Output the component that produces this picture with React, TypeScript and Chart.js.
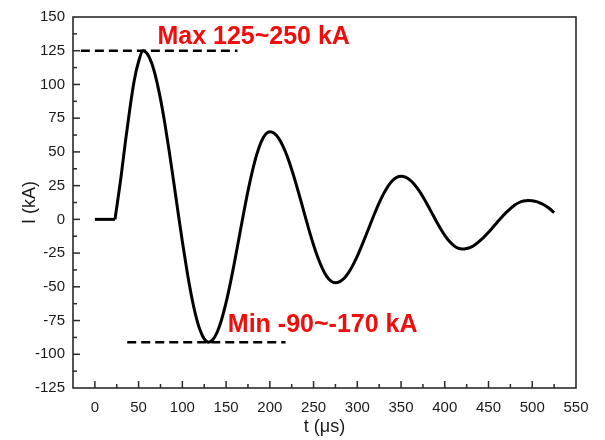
import React, { useEffect, useRef } from 'react';
import { Chart, registerables } from 'chart.js';

Chart.register(...registerables);

// ---- data ----
const baseT = [0, 23];
const baseI = [0, 0];

const waveT = [
  23, 30, 35, 40, 45, 50, 55, 60, 65, 70, 75, 80, 85, 90, 95, 100, 105, 110, 115, 120, 125,
  130, 135, 140, 145, 150, 155, 160, 165, 170, 175, 180, 185, 190, 195, 200, 205, 210, 215,
  220, 225, 230, 235, 240, 245, 250, 255, 260, 265, 270, 275, 280, 285, 290, 295, 300, 305,
  310, 315, 320, 325, 330, 335, 340, 345, 350, 355, 360, 365, 370, 375, 380, 385, 390, 395,
  400, 405, 410, 415, 420, 425, 430, 435, 440, 445, 450, 455, 460, 465, 470, 475, 480, 485,
  490, 495, 500, 505, 510, 515, 520, 525,
];
const waveI = [
  0, 32, 58, 82, 103, 117, 125, 122.6, 115.7, 104.4, 89.3, 71, 50.4, 28.3, 5.7, -16.4, -37,
  -55.3, -70.4, -81.7, -88.6, -91, -89, -83.3, -74, -61.6, -46.9, -30.4, -13, 4.4, 20.9,
  35.6, 48, 57.3, 63, 65, 63.8, 60.2, 54.3, 46.5, 37, 26.3, 14.9, 3.1, -8.3, -19, -28.5,
  -36.3, -42.2, -45.8, -47, -46.1, -43.6, -39.5, -33.9, -27.3, -19.7, -11.6, -3.4, 4.7,
  12.3, 18.9, 24.5, 28.6, 31.1, 32, 31.3, 29.3, 26.1, 21.8, 16.7, 11, 5, -1, -6.7, -11.8,
  -16.1, -19.3, -21.3, -22, -21.6, -20.5, -18.6, -16, -13, -9.6, -5.9, -2.1, 1.6, 5, 8,
  10.6, 12.5, 13.6, 14, 13.8, 13.1, 11.8, 10.1, 7.9, 5,
];

const maxLineT = [-16, 163];
const maxLineI = [125, 125];
const minLineT = [37, 218];
const minLineI = [-91, -91];

const maxLabel = 'Max 125~250 kA';
const maxLabelAt = [71.5, 130];
const minLabel = 'Min -90~-170 kA';
const minLabelAt = [152, -83.3];

const xRange = [-25, 550];
const xStep = 25;
const xLabelEvery = 50;
const yRange = [-125, 150];
const yStep = 12.5;
const yLabelEvery = 25;

const xTitle = 't (μs)';
const yTitle = 'I (kA)';

const FONT = '"Liberation Sans", Arial, sans-serif';
const INK = '#1a1a1a';
const RED = '#f20d0d';

const toPts = (xs: number[], ys: number[]) => xs.map((x, i) => ({ x, y: ys[i] }));

const framePlugin = {
  id: 'frameTicks',
  afterDraw(chart: any) {
    const { ctx, chartArea } = chart;
    const { left, right, top, bottom } = chartArea;
    const xs = chart.scales.x;
    const ys = chart.scales.y;
    ctx.save();
    ctx.strokeStyle = '#2a2a2a';
    ctx.lineWidth = 1.6;
    ctx.strokeRect(left, top, right - left, bottom - top);
    ctx.lineWidth = 1.5;
    xs.ticks.forEach((t: any) => {
      const px = xs.getPixelForValue(t.value);
      if (px <= left + 1 || px >= right - 1) return;
      const major = Math.abs(t.value % xLabelEvery) < 1e-6;
      ctx.beginPath();
      ctx.moveTo(px, bottom);
      ctx.lineTo(px, bottom - (major ? 7 : 4));
      ctx.stroke();
    });
    ys.ticks.forEach((t: any) => {
      const py = ys.getPixelForValue(t.value);
      if (py <= top + 1 || py >= bottom - 1) return;
      const major = Math.abs(t.value % yLabelEvery) < 1e-6;
      ctx.beginPath();
      ctx.moveTo(left, py);
      ctx.lineTo(left + (major ? 7 : 4), py);
      ctx.stroke();
    });
    ctx.fillStyle = RED;
    ctx.font = `bold 25px ${FONT}`;
    ctx.textAlign = 'left';
    ctx.textBaseline = 'alphabetic';
    ctx.fillText(maxLabel, xs.getPixelForValue(maxLabelAt[0]), ys.getPixelForValue(maxLabelAt[1]));
    ctx.fillText(minLabel, xs.getPixelForValue(minLabelAt[0]), ys.getPixelForValue(minLabelAt[1]));
    ctx.restore();
  },
};

export default function App() {
  const ref = useRef<HTMLCanvasElement | null>(null);
  useEffect(() => {
    if (!ref.current) return;
    const chart = new Chart(ref.current, {
      type: 'line',
      data: {
        datasets: [
          {
            data: toPts(baseT, baseI),
            borderColor: '#000',
            borderWidth: 3,
            pointRadius: 0,
            tension: 0,
          },
          {
            data: toPts(waveT, waveI),
            borderColor: '#000',
            borderWidth: 3,
            pointRadius: 0,
            cubicInterpolationMode: 'monotone',
            borderJoinStyle: 'round',
          },
          {
            data: toPts(maxLineT, maxLineI),
            borderColor: '#000',
            borderWidth: 2.5,
            borderDash: [9, 5],
            pointRadius: 0,
          },
          {
            data: toPts(minLineT, minLineI),
            borderColor: '#000',
            borderWidth: 2.5,
            borderDash: [9, 5],
            pointRadius: 0,
          },
        ] as any,
      },
      options: {
        responsive: false,
        animation: false,
        devicePixelRatio: 1,
        layout: { padding: { top: 15, right: 29, left: 0, bottom: 0 } },
        plugins: { legend: { display: false }, tooltip: { enabled: false } },
        scales: {
          x: {
            type: 'linear',
            min: xRange[0],
            max: xRange[1],
            grid: { display: false, drawTicks: false },
            border: { display: false },
            ticks: {
              stepSize: xStep,
              autoSkip: false,
              maxRotation: 0,
              padding: 11,
              color: INK,
              font: { family: FONT, size: 15 },
              callback: (v: any) => (Math.abs(v % xLabelEvery) < 1e-6 ? String(v) : ''),
            },
            title: {
              display: true,
              text: xTitle,
              color: INK,
              font: { family: FONT, size: 18 },
              padding: { top: 0, bottom: 2 },
            },
            afterFit: (s: any) => {
              s.height = 52;
            },
          },
          y: {
            type: 'linear',
            min: yRange[0],
            max: yRange[1],
            grid: { display: false, drawTicks: false },
            border: { display: false },
            ticks: {
              stepSize: yStep,
              autoSkip: false,
              padding: 8,
              color: INK,
              font: { family: FONT, size: 15 },
              callback: (v: any) => (Math.abs(v % yLabelEvery) < 1e-6 ? String(v) : ''),
            },
            title: {
              display: true,
              text: yTitle,
              color: INK,
              font: { family: FONT, size: 18 },
              padding: { top: 19, bottom: 0 },
            },
            afterFit: (s: any) => {
              s.width = 73;
            },
          },
        },
      } as any,
      plugins: [framePlugin],
    });
    return () => chart.destroy();
  }, []);
  return (
    <div style={{ position: 'fixed', left: 0, top: 0, width: 605, height: 440, background: '#fff' }}>
      <canvas ref={ref} width={605} height={440} />
    </div>
  );
}
